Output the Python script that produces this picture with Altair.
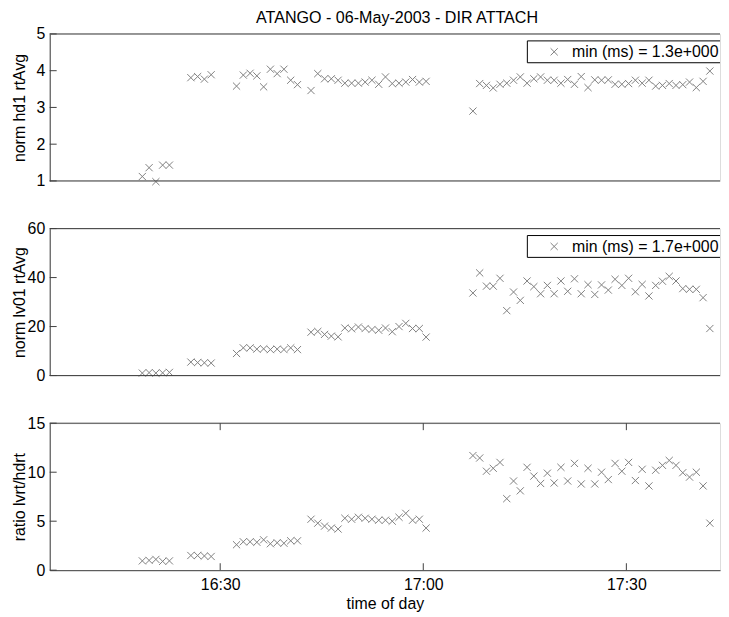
import altair as alt
import pandas as pd

# ---------------- data ----------------
times = [
    "16:18:30", "16:19:30", "16:20:30", "16:21:30", "16:22:30",
    "16:25:40", "16:26:40", "16:27:40", "16:28:40",
    "16:32:25", "16:33:25", "16:34:25", "16:35:25", "16:36:25",
    "16:37:25", "16:38:25", "16:39:25", "16:40:25", "16:41:25",
    "16:43:25", "16:44:25", "16:45:25", "16:46:25", "16:47:25", "16:48:25",
    "16:49:25", "16:50:25", "16:51:25", "16:52:25", "16:53:25", "16:54:25",
    "16:55:25", "16:56:25", "16:57:25", "16:58:25", "16:59:25", "17:00:25",
    "17:07:20", "17:08:20", "17:09:20", "17:10:20", "17:11:20", "17:12:20",
    "17:13:20", "17:14:20", "17:15:20", "17:16:20", "17:17:20", "17:18:20",
    "17:19:20", "17:20:20", "17:21:20", "17:22:20", "17:23:20", "17:24:20",
    "17:25:20", "17:26:20", "17:27:20", "17:28:20", "17:29:20", "17:30:20",
    "17:31:20", "17:32:20", "17:33:20", "17:34:20", "17:35:20", "17:36:20",
    "17:37:20", "17:38:20", "17:39:20", "17:40:20", "17:41:20", "17:42:20",
]

hd1 = [
    1.12, 1.36, 0.98, 1.43, 1.43,
    3.81, 3.84, 3.77, 3.89,
    3.58, 3.88, 3.93, 3.86, 3.56, 4.04, 3.92, 4.04, 3.74, 3.62,
    3.46, 3.92, 3.78, 3.78, 3.74, 3.66, 3.66, 3.66, 3.69, 3.74, 3.63, 3.83,
    3.65, 3.66, 3.69, 3.76, 3.69, 3.71,
    2.90, 3.65, 3.60, 3.53, 3.63, 3.66, 3.74, 3.83, 3.66, 3.78, 3.83, 3.74,
    3.74, 3.66, 3.76, 3.63, 3.84, 3.54, 3.75, 3.74, 3.75, 3.63, 3.63, 3.65,
    3.74, 3.66, 3.74, 3.58, 3.60, 3.65, 3.60, 3.62, 3.69, 3.54, 3.71, 3.99,
]

lv01 = [
    1.0, 1.2, 1.0, 1.1, 1.3,
    5.5, 5.3, 5.2, 5.1,
    9.0, 11.3, 11.3, 10.8, 10.9, 10.6, 10.8, 10.6, 11.3, 10.6,
    17.7, 18.0, 16.8, 16.1, 15.8, 19.4, 19.1, 19.8, 19.2, 18.8, 18.5, 19.4,
    17.9, 20.0, 21.3, 19.2, 19.2, 15.7,
    33.7, 41.9, 36.5, 36.5, 39.7, 26.5, 34.1, 30.7, 38.6, 36.3, 33.4, 36.8,
    33.4, 38.6, 34.4, 39.5, 33.4, 37.1, 33.1, 37.0, 34.9, 39.3, 36.8, 39.7,
    34.2, 37.2, 32.5, 36.8, 38.5, 40.5, 38.6, 35.5, 35.2, 35.2, 31.8, 19.2,
]

ratio = [
    0.95, 1.0, 1.1, 0.9, 0.95,
    1.5, 1.5, 1.45, 1.4,
    2.6, 2.9, 2.9, 2.85, 3.1, 2.7, 2.8, 2.75, 3.0, 3.0,
    5.2, 4.8, 4.5, 4.3, 4.2, 5.3, 5.2, 5.4, 5.3, 5.2, 5.1, 5.1,
    5.0, 5.4, 5.8, 5.1, 5.2, 4.3,
    11.7, 11.45, 10.1, 10.4, 11.0, 7.3, 9.1, 8.1, 10.5, 9.6, 8.85, 9.9,
    8.9, 10.5, 9.1, 10.9, 8.8, 10.4, 8.8, 10.0, 9.25, 10.9, 10.1, 11.0,
    9.15, 10.3, 8.6, 10.2, 10.7, 11.2, 10.7, 9.95, 9.5, 10.0, 8.6, 4.8,
]

x_tick_times = ["16:30:00", "17:00:00", "17:30:00"]
hd1_ticks = [1, 2, 3, 4, 5]
lv01_ticks = [0, 20, 40, 60]
ratio_ticks = [0, 5, 10, 15]

legend1 = "min (ms) = 1.3e+000"
legend2 = "min (ms) = 1.7e+000"
chart_title = "ATANGO - 06-May-2003 - DIR ATTACH"
ytitles = ["norm hd1 rtAvg", "norm lv01 rtAvg", "ratio lvrt/hdrt"]
xtitle = "time of day"

DAY = "2003-05-06T"
df = pd.DataFrame({"t": [DAY + s for s in times], "hd1": hd1, "lv01": lv01, "ratio": ratio})

# ---------------- styling ----------------
W, H = 675, 148
FONT = "Liberation Sans"
FS = 16
MARK_COLOR = "#808080"
AXIS_COLOR = "#404040"
XSHAPE = "M-1,-1L1,1M-1,1L1,-1"

xscale = alt.Scale(
    domain=[alt.DateTime(year=2003, month=5, date=6, hours=16, minutes=4, seconds=49),
            alt.DateTime(year=2003, month=5, date=6, hours=17, minutes=43, seconds=50)]
)
xvals = [alt.DateTime(year=2003, month=5, date=6, hours=int(s[:2]), minutes=int(s[3:5])) for s in x_tick_times]


def x_enc(show):
    if show:
        ax = alt.Axis(values=xvals, format="%H:%M", ticks=False, labelPadding=6,
                      title=xtitle, titlePadding=4, domainColor=AXIS_COLOR,
                      labelFont=FONT, labelFontSize=FS, titleFont=FONT, titleFontSize=FS,
                      titleFontWeight="normal", labelColor="black", titleColor="black", grid=False)
    else:
        ax = None
    return alt.X("t:T", scale=xscale, axis=ax)


def panel(field, ytitle, domain, ticks, show_x, legend_text):
    yax = alt.Axis(values=ticks, ticks=False, labelPadding=5, title=ytitle,
                   titleX=-22, titleY=H / 2, titleAlign="center",
                   domainColor=AXIS_COLOR, grid=False,
                   labelFont=FONT, labelFontSize=FS, titleFont=FONT, titleFontSize=FS,
                   titleFontWeight="normal", labelColor="black", titleColor="black")
    y = alt.Y(f"{field}:Q", scale=alt.Scale(domain=domain, nice=False, zero=False), axis=yax)

    pts = alt.Chart(df).mark_point(shape=XSHAPE, filled=False, color=MARK_COLOR,
                                   strokeWidth=1, size=52, opacity=1).encode(x=x_enc(show_x), y=y)

    tdf = pd.DataFrame({field: ticks})
    yt = alt.Chart(tdf).mark_rule(color=AXIS_COLOR, strokeWidth=1).encode(
        y=y, x=alt.value(0), x2=alt.value(7))

    one = pd.DataFrame({"k": [0]})
    top = alt.Chart(one).mark_rule(color=AXIS_COLOR, strokeWidth=1).encode(
        x=alt.value(0), x2=alt.value(W), y=alt.value(0))

    layers = [pts, yt, top]

    if show_x:
        xdf = pd.DataFrame({"t": [DAY + s for s in x_tick_times]})
        xt1 = alt.Chart(xdf).mark_rule(color=AXIS_COLOR, strokeWidth=1).encode(
            x=x_enc(True), y=alt.value(0), y2=alt.value(7))
        xt2 = alt.Chart(xdf).mark_rule(color=AXIS_COLOR, strokeWidth=1).encode(
            x=x_enc(True), y=alt.value(H - 7), y2=alt.value(H))
        layers += [xt1, xt2]
    else:
        bottom = alt.Chart(one).mark_rule(color=AXIS_COLOR, strokeWidth=1).encode(
            x=alt.value(0), x2=alt.value(W), y=alt.value(H))
        layers += [bottom]

    if legend_text:
        ldf = pd.DataFrame({"label": [legend_text]})
        box = alt.Chart(ldf).mark_rect(fill="white", stroke="black", strokeWidth=1, clip=True).encode(
            x=alt.value(481), x2=alt.value(W + 40), y=alt.value(7), y2=alt.value(29))
        lpt = alt.Chart(ldf).mark_point(shape=XSHAPE, filled=False, color=MARK_COLOR,
                                        strokeWidth=1, size=52, opacity=1).encode(
            x=alt.value(508), y=alt.value(18))
        ltx = alt.Chart(ldf).mark_text(align="left", baseline="middle", font=FONT, fontSize=FS,
                                       color="black").encode(
            x=alt.value(526), y=alt.value(18.5), text="label:N")
        layers += [box, lpt, ltx]

    return alt.layer(*layers).properties(width=W, height=H)


p1 = panel("hd1", ytitles[0], [1, 5], hd1_ticks, False, legend1)
p2 = panel("lv01", ytitles[1], [0, 60], lv01_ticks, False, legend2)
p3 = panel("ratio", ytitles[2], [0, 15], ratio_ticks, True, None)

chart = alt.vconcat(p1, p2, p3, spacing=30).properties(
    title=alt.TitleParams(chart_title, font=FONT, fontSize=16.2, fontWeight="normal",
                          color="black", anchor="middle", offset=-1, dx=31),
    padding={"left": 3, "right": 0, "top": 0, "bottom": 0},
).configure_view(stroke=None).configure(background="white")

chart.save("out.html", embed_options={"renderer": "svg", "actions": False})
